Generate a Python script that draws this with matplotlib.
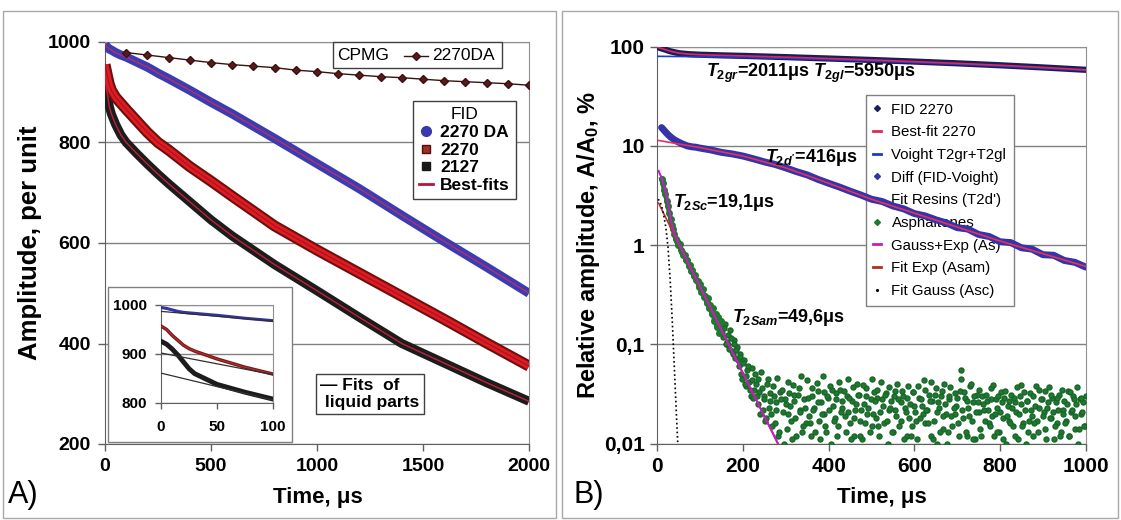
import numpy as np
import matplotlib
matplotlib.use('Agg')
import matplotlib.pyplot as plt
from matplotlib.lines import Line2D
from matplotlib.patches import Rectangle
from matplotlib.ticker import NullLocator

plt.rcParams['font.family'] = ['Liberation Sans', 'DejaVu Sans']
plt.rcParams['mathtext.fontset'] = 'custom'
plt.rcParams['mathtext.rm'] = 'Liberation Sans:bold'
plt.rcParams['mathtext.it'] = 'Liberation Sans:italic:bold'
plt.rcParams['mathtext.bf'] = 'Liberation Sans:bold'

# ---------------- Panel A data ----------------
t_main = [0, 10, 20, 30, 50, 75, 100, 150, 200, 250, 300, 400, 500, 600, 800,
          1000, 1200, 1400, 1600, 1800, 2000]
fid_2270da = [995, 990, 986, 984, 979, 974, 970, 960, 950, 938, 927, 904, 880, 857,
              808, 758, 708, 655, 603, 552, 500]
fid_2270 = [955, 935, 916, 904, 890, 878, 866, 843, 820, 800, 785, 752, 723, 693,
            634, 586, 540, 494, 448, 401, 355]
fid_2127 = [925, 900, 872, 857, 836, 815, 800, 778, 757, 737, 718, 682, 646, 614,
            557, 505, 452, 400, 361, 322, 285]
t_cpmg = [100, 200, 300, 400, 500, 600, 700, 800, 900, 1000, 1100, 1200, 1300,
          1400, 1500, 1600, 1700, 1800, 1900, 2000]
cpmg_2270da = [979, 974, 969, 964, 959, 955, 952, 949, 944, 941, 937, 934, 931,
               929, 926, 923, 921, 919, 917, 914]

# inset (first 100 us)
t_in = [0, 5, 10, 15, 20, 25, 30, 40, 50, 75, 100]
in_2270da = [995, 993, 990, 987, 985, 984, 983, 981, 979, 973, 968]
in_2270 = [957, 950, 938, 928, 918, 911, 906, 898, 890, 873, 859]
in_2127 = [926, 920, 910, 898, 884, 870, 860, 849, 838, 822, 808]
t_liq = [0, 100]
liq_2270da = [987, 967]
liq_2270 = [902, 858]
liq_2127 = [861, 806]

# ---------------- Panel B data ----------------
t_fid = [0, 5, 10, 20, 30, 50, 75, 100, 150, 200, 300, 400, 500, 600, 700, 800, 900, 1000]
fid_b = [99, 97.5, 96, 93, 90, 86, 84, 83, 81.8, 80.8, 78.5, 76, 73.5, 70.8, 68, 65, 61.8, 58.5]
best_b = [99.5, 97.5, 96, 93, 90.2, 86.3, 84.1, 83.1, 81.8, 80.8, 78.5, 76, 73.5, 70.8, 68, 65, 61.8, 58.5]
t_voigt = [0, 100, 200, 300, 400, 500, 600, 700, 800, 900, 1000]
voigt_b = [80, 79.3, 78.0, 76.3, 74.2, 71.8, 69.3, 66.6, 63.7, 60.7, 57.6]

t_diff = [10, 15, 20, 25, 30, 40, 50, 60, 70, 80, 90, 100, 125, 150, 175, 200, 225,
          250, 275, 300, 325, 350, 375, 400, 425, 450, 475, 500, 525, 550, 575, 600,
          625, 650, 675, 700, 725, 750, 775, 800, 825, 850, 875, 900, 925, 950, 975, 1000]
diff_b = [15.3, 14.5, 13.7, 13.0, 12.4, 11.5, 10.9, 10.4, 10.0, 9.8, 9.7, 9.5, 9.1,
          8.6, 8.3, 7.9, 7.4, 6.9, 6.5, 6.0, 5.5, 5.1, 4.6, 4.2, 3.85, 3.5, 3.2, 2.9,
          2.75, 2.48, 2.32, 2.08, 1.97, 1.8, 1.67, 1.5, 1.45, 1.28, 1.22, 1.08, 1.06,
          0.94, 0.91, 0.8, 0.79, 0.7, 0.67, 0.6]
t_resin = [0, 100, 200, 300, 400, 500, 600, 700, 800, 900, 1000]
resin_b = [11.4, 9.6, 7.9, 6.0, 4.2, 2.9, 2.1, 1.52, 1.1, 0.82, 0.61]

t_gexp = [3, 5, 10, 15, 20, 25, 30, 35, 40, 45, 50, 75, 100, 125, 150, 175, 200, 225, 250, 275, 285]
gexp_b = [5.6, 5.33, 4.78, 4.07, 3.37, 2.64, 1.98, 1.56, 1.31, 1.16, 1.04, 0.62, 0.38,
          0.23, 0.139, 0.084, 0.051, 0.031, 0.0188, 0.0114, 0.0093]
t_exp = [3, 25, 50, 75, 100, 125, 150, 175, 200, 225, 250, 275, 285]
exp_b = [2.65, 1.70, 1.03, 0.62, 0.38, 0.23, 0.139, 0.084, 0.051, 0.031, 0.0188, 0.0114, 0.0093]
t_gauss = [2, 5, 10, 15, 20, 25, 30, 35, 40, 45, 48]
gauss_b = [2.9, 2.8, 2.5, 2.0, 1.5, 0.95, 0.45, 0.17, 0.055, 0.018, 0.0095]

t_asph_early = np.arange(10, 149, 3)
asph_early = [4.6, 4.2, 3.6, 3.3, 2.8, 2.5, 2.1, 1.85, 1.6, 1.45, 1.3, 1.15, 1.1, 1.0,
              1.02, 0.9, 0.86, 0.8, 0.8, 0.7, 0.7, 0.62, 0.63, 0.55, 0.56, 0.49, 0.5,
              0.44, 0.43, 0.38, 0.41, 0.34, 0.36, 0.3, 0.31, 0.26, 0.29, 0.23, 0.25,
              0.2, 0.23, 0.17, 0.2, 0.15, 0.19, 0.13, 0.17]
t_asph_a = np.arange(150, 1000, 4)
asph_a_milli = [150, 118, 160, 105, 98, 140, 85, 110, 72, 95,
                60, 80, 45, 70, 38, 55, 42, 30, 58, 35,
                40, 25, 33, 52, 22, 30, 18, 45, 27, 20,
                38, 16, 26, 12, 33, 9, 21, 28, 14, 42,
                24, 11, 31, 18, 8, 36, 22, 13, 28, 16,
                44, 19, 12, 30, 23, 9, 34, 17, 26, 48,
                20, 13, 29, 38, 10, 24, 18, 32, 15, 35,
                23, 9, 19, 30, 45, 16, 27, 12, 22, 40,
                31, 17, 11, 25, 36, 20, 8, 28, 15, 33,
                18, 29, 12, 42, 24, 16, 32, 10, 22, 27,
                13, 34, 19, 28, 9, 17, 30, 23, 12, 38,
                25, 15, 33, 21, 11, 29, 18, 24, 44, 16,
                22, 31, 12, 27, 17, 36, 10, 23, 30, 14,
                40, 20, 13, 28, 19, 8, 32, 24, 16, 34,
                55, 18, 29, 12, 23, 38, 17, 26, 11, 31,
                21, 14, 30, 22, 9, 27, 16, 36, 19, 12,
                28, 23, 13, 33, 18, 29, 10, 24, 17, 31,
                15, 26, 21, 11, 30, 39, 16, 22, 27, 13,
                32, 19, 12, 24, 17, 35, 9, 28, 21, 14,
                23, 37, 18, 29, 11, 26, 16, 31, 13, 22,
                27, 17, 34, 12, 21, 30, 14, 25, 10, 28,
                20, 26, 15]
t_asph_b = np.arange(152, 1001, 4)
asph_b_milli = [130, 145, 100, 125, 90, 115, 80, 100, 88, 70,
                75, 50, 65, 40, 48, 60, 35, 44, 29, 50,
                30, 45, 20, 36, 28, 17, 40, 23, 32, 15,
                30, 22, 46, 13, 28, 35, 10, 25, 20, 32,
                17, 39, 27, 12, 31, 21, 48, 15, 23, 9,
                29, 16, 36, 22, 13, 41, 26, 11, 20, 33,
                15, 30, 22, 8, 35, 17, 28, 12, 42, 21,
                27, 34, 13, 21, 29, 11, 37, 18, 25, 31,
                12, 22, 39, 16, 30, 23, 13, 45, 20, 27,
                35, 15, 21, 28, 8, 31, 17, 37, 23, 13,
                30, 22, 40, 15, 26, 34, 11, 21, 29, 18,
                12, 33, 24, 17, 38, 9, 28, 20, 35, 22,
                16, 27, 42, 11, 31, 21, 26, 13, 34, 19,
                25, 10, 30, 37, 15, 23, 20, 29, 12, 45,
                22, 33, 13, 27, 19, 40, 11, 30, 21, 26,
                35, 12, 25, 17, 31, 22, 15, 28, 39, 20,
                13, 30, 21, 26, 11, 34, 19, 27, 16, 23,
                29, 12, 37, 20, 25, 15, 33, 10, 27, 17,
                22, 30, 16, 38, 13, 23, 28, 19, 34, 11,
                26, 18, 31, 21, 15, 29, 22, 12, 35, 20,
                16, 25, 12, 33, 22, 28, 19, 37, 14, 29,
                21, 15, 30]

a_xticks = [0, 500, 1000, 1500, 2000]
a_yticks = [200, 400, 600, 800, 1000]
b_xticks = [0, 200, 400, 600, 800, 1000]
b_yticks = [0.01, 0.1, 1, 10, 100]
b_ylabels = ['0,01', '0,1', '1', '10', '100']

# ---------------- Figure ----------------
W, H = 1121, 520
fig = plt.figure(figsize=(W / 100, H / 100), dpi=100)
fig.patch.set_facecolor('white')

def fx(px):
    return px / W

def fy(py):
    return 1 - py / H

# panel frames
for x0, x1 in [(3, 556), (562, 1118)]:
    fig.add_artist(Rectangle((fx(x0), fy(518)), fx(x1) - fx(x0), fy(11) - fy(518),
                             transform=fig.transFigure, fill=False,
                             edgecolor='#a8a8a8', lw=1.0, zorder=-1))

GRID = '#808080'

def style_axes(ax, size):
    ax.set_axisbelow(True)
    for s in ['top', 'right']:
        ax.spines[s].set_color('#909090')
    for s in ['left', 'bottom']:
        ax.spines[s].set_color('#606060')
    ax.tick_params(direction='out', length=5, width=1, color='#606060', labelsize=size)
    for lab in ax.get_xticklabels() + ax.get_yticklabels():
        lab.set_fontweight('bold')

# ---------------- Panel A ----------------
ax1 = fig.add_axes([fx(105), fy(444), fx(529) - fx(105), fy(42) - fy(444)])
ax1.set_xlim(0, 2000)
ax1.set_ylim(200, 1000)
ax1.set_xticks(a_xticks)
ax1.set_yticks(a_yticks)
ax1.grid(axis='y', color=GRID, lw=1)
style_axes(ax1, 14)
ax1.tick_params(axis='y', pad=5)
ax1.tick_params(axis='x', pad=5)

ax1.plot(t_main, fid_2127, color='#1c1c1c', lw=6.5, solid_capstyle='butt', zorder=3)
ax1.plot(t_main, fid_2127, color='#c0203a', lw=1.0, zorder=4)
ax1.plot(t_main, fid_2270, color='#6a1010', lw=8, solid_capstyle='butt', zorder=3)
ax1.plot(t_main, fid_2270, color='#e01c1c', lw=5, solid_capstyle='butt', zorder=3)
ax1.plot(t_main, fid_2270, color='#b01030', lw=1.0, zorder=4)
ax1.plot(t_main, fid_2270da, color='#3c3cb0', lw=6.5, solid_capstyle='butt', zorder=3)
ax1.plot(t_main, fid_2270da, color='#b0306e', lw=1.0, zorder=4)
ax1.plot(t_cpmg, cpmg_2270da, color='#3a1010', lw=1.0, marker='D', ms=4.5,
         mfc='#5a1a1a', mec='#3a1010', zorder=5)

# FID legend
h_da = Line2D([], [], ls='none', marker='o', ms=7, color='#3838b0')
h_70 = Line2D([], [], ls='none', marker='s', ms=5.5, mfc='#a03020', mec='#501010')
h_27 = Line2D([], [], ls='none', marker='s', ms=5.5, color='#181818')
h_bf = Line2D([], [], color='#c0103a', lw=2)
leg1 = ax1.legend([h_da, h_70, h_27, h_bf], ['2270 DA', '2270', '2127', 'Best-fits'],
                  title='FID', loc='upper right', bbox_to_anchor=(fx(516), fy(101)),
                  bbox_transform=fig.transFigure, prop={'weight': 'bold', 'size': 12.5},
                  title_fontsize=12.5, frameon=True, fancybox=False, edgecolor='#404040',
                  framealpha=1, handlelength=0.8, handletextpad=0.4, borderpad=0.35,
                  labelspacing=0.15, borderaxespad=0)
leg1.get_frame().set_linewidth(1)

# CPMG legend box
fig.add_artist(Rectangle((fx(333), fy(68)), fx(502) - fx(333), fy(42) - fy(68),
                         transform=fig.transFigure, facecolor='white',
                         edgecolor='#404040', lw=1, zorder=3))
fig.text(fx(337), fy(55.5), 'CPMG', va='center', ha='left', fontsize=12.5, zorder=4)
fig.add_artist(Line2D([fx(404), fx(428)], [fy(55.5), fy(55.5)], transform=fig.transFigure,
                      color='#3a1010', lw=1, zorder=4))
fig.add_artist(Line2D([fx(416)], [fy(55.5)], transform=fig.transFigure, ls='none',
                      marker='D', ms=4.5, mfc='#5a1a1a', mec='#3a1010', zorder=4))
fig.text(fx(432), fy(55.5), '2270DA', va='center', ha='left', fontsize=12.5, zorder=4)

# Fits of liquid parts box
fig.text(fx(320), fy(394), '— Fits  of\n liquid parts', ha='left', va='center',
         fontsize=12.5, fontweight='bold', linespacing=1.15, zorder=4,
         bbox=dict(boxstyle='square,pad=0.25', fc='white', ec='#404040', lw=1))

# inset frame and inset axes
fig.add_artist(Rectangle((fx(108), fy(442)), fx(292) - fx(108), fy(287) - fy(442),
                         transform=fig.transFigure, facecolor='white',
                         edgecolor='#808080', lw=1, zorder=1))
axin = fig.add_axes([fx(161), fy(403), fx(273) - fx(161), fy(305) - fy(403)])
axin.set_zorder(2)
axin.set_xlim(0, 100)
axin.set_ylim(800, 1000)
axin.set_xticks([0, 50, 100])
axin.set_yticks([800, 900, 1000])
axin.grid(axis='y', color=GRID, lw=1)
style_axes(axin, 11)
axin.tick_params(length=4)
axin.tick_params(axis='x', pad=8)
axin.tick_params(axis='y', pad=6)
axin.plot(t_in, in_2127, color='#1c1c1c', lw=3.5, zorder=3)
axin.plot(t_in, in_2270, color='#7a1a1a', lw=2.5, zorder=3)
axin.plot(t_in, in_2270, color='#b03030', lw=0.8, zorder=3)
axin.plot(t_in, in_2270da, color='#3434a8', lw=2.2, zorder=3)
for yy in [liq_2270da, liq_2270, liq_2127]:
    axin.plot(t_liq, yy, color='#303030', lw=0.9, zorder=4)

# labels panel A
fig.text(fx(30), fy(243), 'Amplitude, per unit', rotation=90, ha='center', va='center',
         fontsize=18.5, fontweight='bold')
fig.text(fx(318), fy(497), 'Time, μs', ha='center', va='center', fontsize=16,
         fontweight='bold')
fig.text(fx(8), fy(495), 'A)', ha='left', va='center', fontsize=22)

# ---------------- Panel B ----------------
ax2 = fig.add_axes([fx(657.3), fy(443.5), fx(1085.7) - fx(657.3), fy(46.7) - fy(443.5)])
ax2.set_yscale('log')
ax2.set_xlim(0, 1000)
ax2.set_ylim(0.01, 100)
ax2.set_xticks(b_xticks)
ax2.set_yticks(b_yticks)
ax2.set_yticklabels(b_ylabels)
ax2.yaxis.set_minor_locator(NullLocator())
ax2.grid(axis='y', color=GRID, lw=1)
style_axes(ax2, 15)
ax2.tick_params(axis='y', pad=4)
ax2.tick_params(axis='x', pad=5)

GREEN = '#1f7a2e'
ax2.plot(t_asph_a, np.array(asph_a_milli) / 1000.0, ls='none', marker='o', ms=3.6,
         color=GREEN, mec='#18662a', zorder=3)
ax2.plot(t_asph_b, np.array(asph_b_milli) / 1000.0, ls='none', marker='o', ms=3.6,
         color=GREEN, mec='#18662a', zorder=3)
ax2.plot(t_asph_early, asph_early, color=GREEN, lw=3.5, zorder=3)
ax2.plot(t_asph_early, asph_early, ls='none', marker='o', ms=4, color=GREEN, zorder=3)
ax2.plot(t_gauss, gauss_b, color='black', ls=':', lw=1.2, zorder=5)
ax2.plot(t_exp, exp_b, color='#c0302a', lw=1.2, zorder=4)
ax2.plot(t_gexp, gexp_b, color='#c020c0', lw=1.5, zorder=5)
ax2.plot(t_diff, diff_b, color='#3434a8', lw=5, solid_capstyle='round', zorder=3)
ax2.plot(t_resin, resin_b, color='#e83060', lw=1.2, zorder=4)
ax2.plot(t_fid, fid_b, color='#1c1c5c', lw=4.5, solid_capstyle='round', zorder=3)
ax2.plot(t_voigt, voigt_b, color='#1a3ccc', lw=1.2, zorder=4)
ax2.plot(t_fid, best_b, color='#e0285a', lw=1.2, zorder=4)

hb = [Line2D([], [], ls='none', marker='D', ms=3, color='#1c1c5c'),
      Line2D([], [], color='#e0285a', lw=2),
      Line2D([], [], color='#1a3ccc', lw=2),
      Line2D([], [], ls='none', marker='D', ms=3, color='#3434a8'),
      Line2D([], [], color='#905060', lw=2),
      Line2D([], [], ls='none', marker='D', ms=3, color=GREEN),
      Line2D([], [], color='#c020c0', lw=2),
      Line2D([], [], color='#b03020', lw=2),
      Line2D([], [], ls='none', marker='.', ms=2.5, color='black')]
lb = ['FID 2270', 'Best-fit 2270', 'Voight T2gr+T2gl', 'Diff (FID-Voight)',
      "Fit Resins (T2d')", 'Asphaltenes', 'Gauss+Exp (As)', 'Fit Exp (Asam)',
      'Fit Gauss (Asc)']
leg2 = ax2.legend(hb, lb, loc='upper left', bbox_to_anchor=(fx(866), fy(95)),
                  bbox_transform=fig.transFigure, fontsize=10.8, frameon=True,
                  fancybox=False, edgecolor='#808080', framealpha=1, handlelength=0.5,
                  handletextpad=0.7, borderpad=0.5, labelspacing=0.58, borderaxespad=0)
leg2.get_frame().set_linewidth(1)
leg2.set_zorder(1)

ax2.text(114, 54, r'$T_{2gr}$=2011μs $T_{2gl}$=5950μs', fontsize=13, fontweight='bold',
         va='center', ha='left', zorder=6)
ax2.text(251, 7.7, r"$T_{2d'}$=416μs", fontsize=13, fontweight='bold', va='center',
         ha='left', zorder=6)
ax2.text(37, 2.7, r'$T_{2Sc}$=19,1μs', fontsize=13, fontweight='bold', va='center',
         ha='left', zorder=6)
ax2.text(174, 0.185, r'$T_{2Sam}$=49,6μs', fontsize=13, fontweight='bold', va='center',
         ha='left', zorder=6)

fig.text(fx(589), fy(245), 'Relative amplitude, A/A$_0$, %', rotation=90, ha='center',
         va='center', fontsize=17, fontweight='bold')
fig.text(fx(882), fy(497), 'Time, μs', ha='center', va='center', fontsize=16,
         fontweight='bold')
fig.text(fx(573), fy(495), 'B)', ha='left', va='center', fontsize=22)

fig.savefig('out.png', dpi=100, facecolor='white')
